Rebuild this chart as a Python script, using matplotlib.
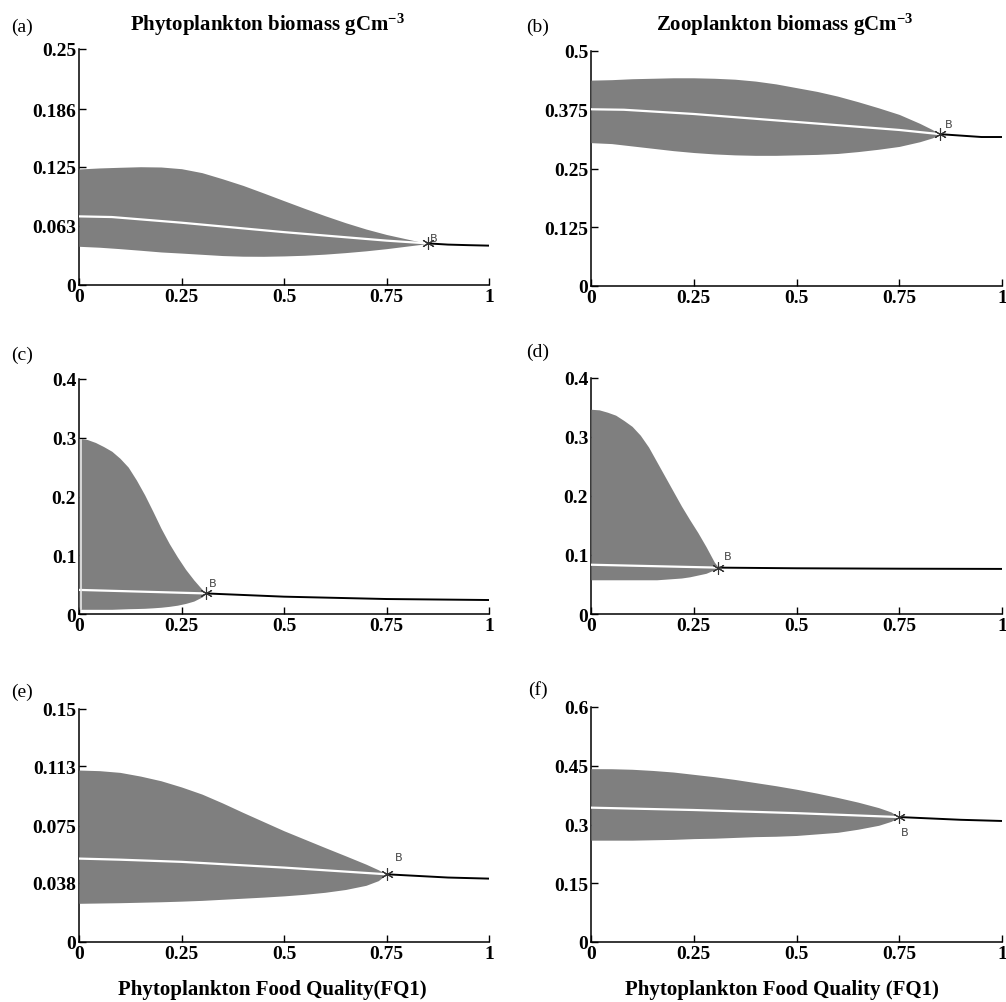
import matplotlib
matplotlib.use("Agg")
import matplotlib.pyplot as plt

SERIF = "Liberation Serif"
plt.rcParams["mathtext.fontset"] = "custom"
plt.rcParams["mathtext.rm"] = SERIF + ":bold"
plt.rcParams["mathtext.bf"] = SERIF + ":bold"
plt.rcParams["mathtext.default"] = "bf"


# =========================
# DATA
# =========================

# (a) phytoplankton, first model
xa_osc = [0, 0.05, 0.1, 0.15, 0.2, 0.25, 0.3, 0.35, 0.4, 0.45, 0.5,
          0.55, 0.6, 0.65, 0.7, 0.75, 0.8, 0.83, 0.85]
ya_max = [0.1229, 0.124, 0.1247, 0.1253, 0.125, 0.1232, 0.119, 0.1125, 0.1055,
          0.0975, 0.0893, 0.0812, 0.0734, 0.066, 0.0593, 0.0535, 0.0487, 0.0458, 0.0441]
ya_min = [0.041, 0.040, 0.0385, 0.0368, 0.035, 0.0338, 0.0325, 0.0312, 0.0305,
          0.0304, 0.0308, 0.0315, 0.0327, 0.0343, 0.0362, 0.0385, 0.0412, 0.0428, 0.0441]
xa_uns = [0, 0.08, 0.25, 0.5, 0.75, 0.85]
ya_uns = [0.0727, 0.072, 0.066, 0.056, 0.047, 0.0441]
xa_st = [0.85, 0.9, 0.95, 1.0]
ya_st = [0.0441, 0.0428, 0.0422, 0.0417]

# (b) zooplankton, first model
xb_osc = xa_osc
yb_max = [0.438, 0.439, 0.441, 0.442, 0.443, 0.443, 0.442, 0.44, 0.436, 0.43,
          0.422, 0.414, 0.404, 0.392, 0.379, 0.365, 0.346, 0.333, 0.323]
yb_min = [0.305, 0.303, 0.298, 0.293, 0.288, 0.284, 0.281, 0.279, 0.278, 0.278,
          0.279, 0.28, 0.282, 0.286, 0.291, 0.297, 0.307, 0.315, 0.323]
xb_uns = [0, 0.08, 0.25, 0.5, 0.75, 0.85]
yb_uns = [0.376, 0.375, 0.366, 0.349, 0.332, 0.323]
xb_st = [0.85, 0.9, 0.95, 1.0]
yb_st = [0.323, 0.32, 0.317, 0.317]

# (c) phytoplankton, second model
xc_osc = [0, 0.02, 0.04, 0.06, 0.08, 0.1, 0.12, 0.14, 0.16, 0.18, 0.2,
          0.22, 0.24, 0.26, 0.28, 0.3, 0.31]
yc_max = [0.299, 0.297, 0.292, 0.285, 0.277, 0.265, 0.25, 0.228, 0.203, 0.175,
          0.146, 0.12, 0.097, 0.076, 0.058, 0.042, 0.035]
yc_min = [0.008, 0.008, 0.008, 0.008, 0.008, 0.0085, 0.009, 0.0093, 0.0097, 0.0105,
          0.0115, 0.013, 0.015, 0.018, 0.022, 0.029, 0.035]
xc_uns = [0, 0.31]
yc_uns = [0.041, 0.035]
xc_st = [0.31, 0.5, 0.75, 1.0]
yc_st = [0.035, 0.0295, 0.0255, 0.0238]
xc_edge = [0.005, 0.005]
yc_edge = [0.008, 0.297]

# (d) zooplankton, second model
xd_osc = xc_osc
yd_max = [0.347, 0.346, 0.342, 0.337, 0.328, 0.318, 0.303, 0.283, 0.258, 0.233,
          0.208, 0.183, 0.16, 0.138, 0.114, 0.088, 0.079]
yd_min = [0.058, 0.058, 0.058, 0.058, 0.058, 0.058, 0.058, 0.058, 0.058, 0.059,
          0.06, 0.061, 0.063, 0.066, 0.069, 0.075, 0.079]
xd_uns = [0, 0.31]
yd_uns = [0.0835, 0.0786]
xd_st = [0.31, 0.5, 0.75, 1.0]
yd_st = [0.0786, 0.0775, 0.0768, 0.0764]

# (e) phytoplankton, third model
xe_osc = [0, 0.05, 0.1, 0.15, 0.2, 0.25, 0.3, 0.35, 0.4, 0.45, 0.5, 0.55,
          0.6, 0.65, 0.7, 0.73, 0.75]
ye_max = [0.1107, 0.1103, 0.1092, 0.1068, 0.1038, 0.0998, 0.0952, 0.0895, 0.0834,
          0.0775, 0.0716, 0.0662, 0.0608, 0.0555, 0.0501, 0.0465, 0.0436]
ye_min = [0.0249, 0.0251, 0.0253, 0.0256, 0.0259, 0.0263, 0.0268, 0.0275, 0.0282,
          0.0289, 0.0297, 0.0307, 0.032, 0.0338, 0.0365, 0.0395, 0.0436]
xe_uns = [0, 0.1, 0.25, 0.5, 0.75]
ye_uns = [0.0537, 0.053, 0.0516, 0.0479, 0.0436]
xe_st = [0.75, 0.9, 1.0]
ye_st = [0.0436, 0.0415, 0.0408]

# (f) zooplankton, third model
xf_osc = xe_osc
yf_max = [0.4426, 0.4424, 0.441, 0.438, 0.434, 0.428, 0.422, 0.415, 0.407,
          0.399, 0.39, 0.38, 0.369, 0.357, 0.343, 0.332, 0.319]
yf_min = [0.26, 0.26, 0.26, 0.261, 0.262, 0.264, 0.265, 0.267, 0.269, 0.27,
          0.272, 0.276, 0.28, 0.288, 0.298, 0.308, 0.319]
xf_uns = [0, 0.25, 0.5, 0.75]
yf_uns = [0.343, 0.337, 0.329, 0.319]
xf_st = [0.75, 0.9, 1.0]
yf_st = [0.319, 0.312, 0.309]

x_ticks = [0, 0.25, 0.5, 0.75, 1]
x_ticklabels = ["0", "0.25", "0.5", "0.75", "1"]

ya_ticks = [0, 0.063, 0.125, 0.186, 0.25]
yb_ticks = [0, 0.125, 0.25, 0.375, 0.5]
yc_ticks = [0, 0.1, 0.2, 0.3, 0.4]
yd_ticks = [0, 0.1, 0.2, 0.3, 0.4]
ye_ticks = [0, 0.038, 0.075, 0.113, 0.15]
yf_ticks = [0, 0.15, 0.3, 0.45, 0.6]

ya_ticklabels = ["0", "0.063", "0.125", "0.186", "0.25"]
yb_ticklabels = ["0", "0.125", "0.25", "0.375", "0.5"]
yc_ticklabels = ["0", "0.1", "0.2", "0.3", "0.4"]
yd_ticklabels = ["0", "0.1", "0.2", "0.3", "0.4"]
ye_ticklabels = ["0", "0.038", "0.075", "0.113", "0.15"]
yf_ticklabels = ["0", "0.15", "0.3", "0.45", "0.6"]

panel_letters = ["(a)", "(b)", "(c)", "(d)", "(e)", "(f)"]
titles = ["Phytoplankton biomass gCm$^{-3}$", "Zooplankton biomass gCm$^{-3}$"]
xlabels = ["Phytoplankton Food Quality(FQ1)", "Phytoplankton Food Quality (FQ1)"]


# =========================
# LAYOUT
# =========================

W, H = 1006, 1003
GREY = "#7f7f7f"

fig = plt.figure(figsize=(W / 100, H / 100), dpi=100)


def px_axes(left, right, top, bottom):
    return fig.add_axes([left / W, 1 - bottom / H, (right - left) / W, (bottom - top) / H])


def draw_panel(ax, x_osc, y_max, y_min, x_uns, y_uns, x_st, y_st,
               yticks, yticklabels, b_offset):
    ax.fill_between(x_osc, y_min, y_max, color=GREY, lw=0, zorder=3)
    ax.plot(x_uns, y_uns, color="white", lw=1.6, zorder=4)
    ax.plot(x_st, y_st, color="black", lw=1.4, zorder=4)
    bx, by = x_st[0], y_st[0]
    ax.plot([bx], [by], marker=(6, 2, 0), ms=9, color="#333333", mew=0.8, zorder=5)
    ax.annotate("B", (bx, by), xytext=b_offset, textcoords="offset points",
                fontsize=8, color="#444444", family="DejaVu Sans", zorder=6)

    ax.set_xlim(0, 1)
    ax.set_ylim(yticks[0], yticks[-1])
    ax.set_xticks(x_ticks)
    ax.set_xticklabels(x_ticklabels)
    ax.set_yticks(yticks)
    ax.set_yticklabels(yticklabels)
    for s in ["top", "right"]:
        ax.spines[s].set_visible(False)
    for s in ["left", "bottom"]:
        ax.spines[s].set_linewidth(1.1)
    ax.tick_params(direction="in", length=5, width=1.0, pad=2)
    for lab in ax.get_xticklabels() + ax.get_yticklabels():
        lab.set_family(SERIF)
        lab.set_fontweight("bold")
        lab.set_fontsize(14)


ax_a = px_axes(79, 489, 50, 286)
ax_b = px_axes(591, 1002, 52, 287)
ax_c = px_axes(79, 489, 380, 615)
ax_d = px_axes(591, 1002, 379, 615)
ax_e = px_axes(79, 489, 710, 943)
ax_f = px_axes(591, 1002, 708, 943)

draw_panel(ax_a, xa_osc, ya_max, ya_min, xa_uns, ya_uns, xa_st, ya_st,
           ya_ticks, ya_ticklabels, (2, 2))
draw_panel(ax_b, xb_osc, yb_max, yb_min, xb_uns, yb_uns, xb_st, yb_st,
           yb_ticks, yb_ticklabels, (3, 5))
draw_panel(ax_c, xc_osc, yc_max, yc_min, xc_uns, yc_uns, xc_st, yc_st,
           yc_ticks, yc_ticklabels, (2, 5))
draw_panel(ax_d, xd_osc, yd_max, yd_min, xd_uns, yd_uns, xd_st, yd_st,
           yd_ticks, yd_ticklabels, (4, 6))
draw_panel(ax_e, xe_osc, ye_max, ye_min, xe_uns, ye_uns, xe_st, ye_st,
           ye_ticks, ye_ticklabels, (6, 10))
draw_panel(ax_f, xf_osc, yf_max, yf_min, xf_uns, yf_uns, xf_st, yf_st,
           yf_ticks, yf_ticklabels, (1, -13))

# thin light edge on the left of the oscillation band in (c)
ax_c.plot(xc_edge, yc_edge, color="#e8e8e8", lw=1.2, zorder=4)

# titles, panel letters, x labels
for cx, title in zip([267, 785], titles):
    fig.text(cx / W, 1 - 25 / H, title, ha="center", va="center",
             family=SERIF, fontweight="bold", fontsize=15)

letter_pos = [(22, 27), (538, 27), (22, 355), (538, 352), (22, 692), (538, 690)]
for (lx, ly), letter in zip(letter_pos, panel_letters):
    fig.text(lx / W, 1 - ly / H, letter, ha="center", va="center",
             family=SERIF, fontsize=14)

for cx, xl in zip([272, 782], xlabels):
    fig.text(cx / W, 1 - 990 / H, xl, ha="center", va="center",
             family=SERIF, fontweight="bold", fontsize=15)

fig.savefig("out.png", dpi=100)
